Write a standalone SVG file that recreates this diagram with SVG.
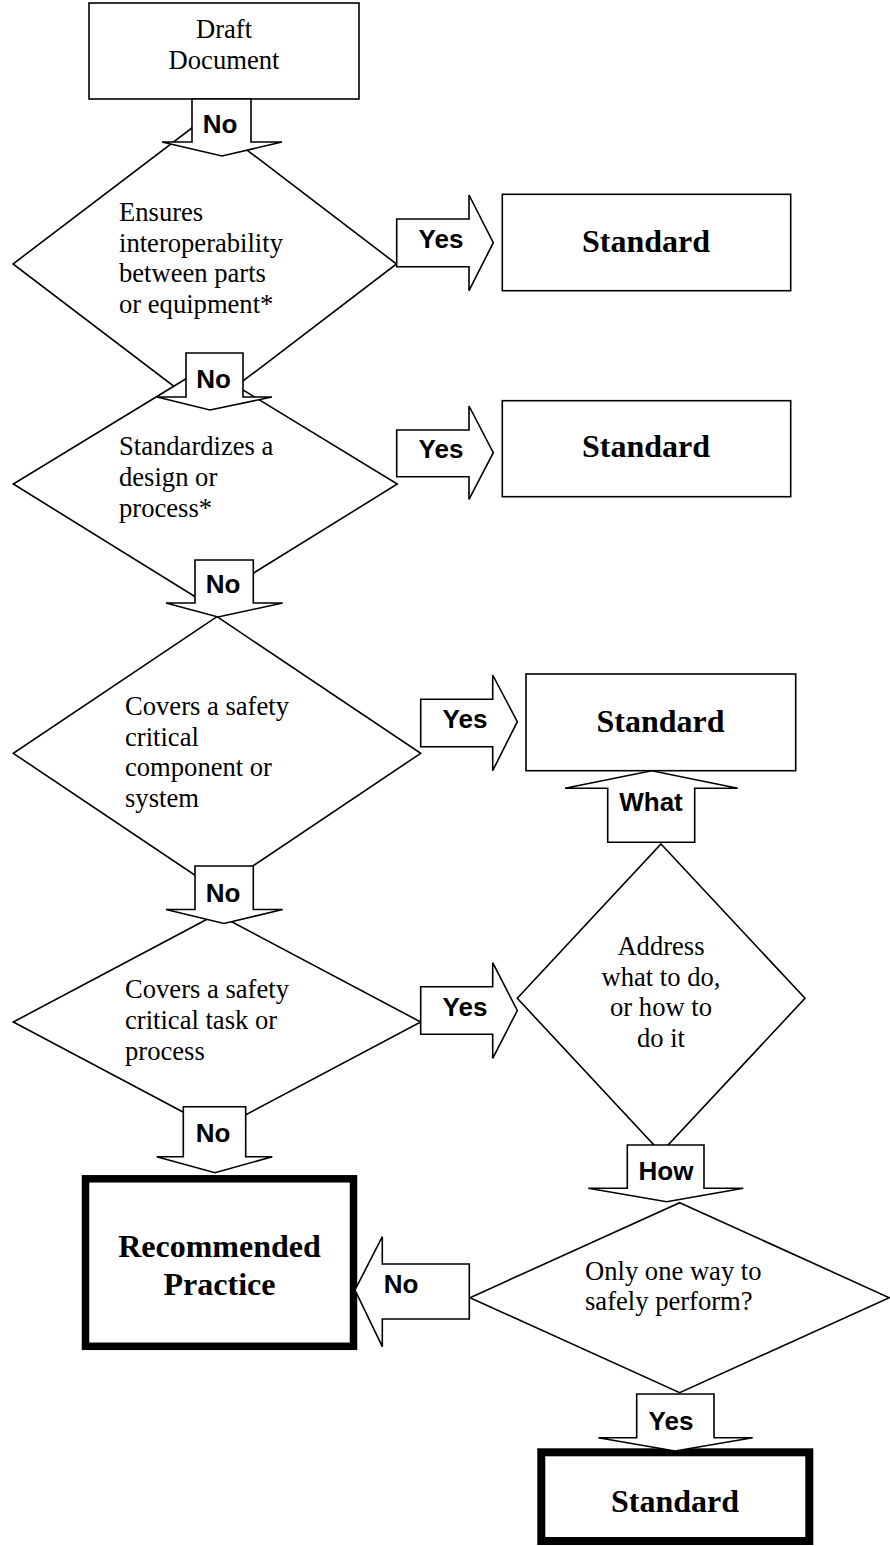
<svg xmlns="http://www.w3.org/2000/svg" width="890" height="1546" viewBox="0 0 890 1546">
<style>
.shape{fill:#fff;stroke:#000;stroke-width:1.6;stroke-linejoin:miter}
.thick{fill:#fff;stroke:#000;stroke-width:7.5}
.arrow{fill:#fff;stroke:#000;stroke-width:1.6;stroke-linejoin:miter}
.t{font-family:"Liberation Serif","Times New Roman",serif;font-size:26.6px;fill:#000}
.tb{font-family:"Liberation Serif","Times New Roman",serif;font-size:32px;font-weight:bold;fill:#000;text-anchor:middle}
.lbl{font-family:"Liberation Sans",Arial,sans-serif;font-size:26px;font-weight:bold;fill:#000;text-anchor:middle}
.c{text-anchor:middle}
</style>
<rect width="890" height="1546" fill="#fff"/>
<g id="draft">
<rect class="shape" x="89" y="3" width="270" height="96"/>
<text class="t c" x="224" y="38.3">Draft</text>
<text class="t c" x="224" y="69">Document</text>
</g>
<g id="d1">
<polygon class="shape" points="205,118 396.5,264 205,410 13,264"/>
<text class="t" x="119" y="220.7">Ensures</text>
<text class="t" x="119" y="251.5">interoperability</text>
<text class="t" x="119" y="282.3">between parts</text>
<text class="t" x="119" y="313.1">or equipment*</text>
</g>
<g id="d2">
<polygon class="shape" points="205.3,367 397.3,484 205.3,603 13.3,484"/>
<text class="t" x="119" y="455">Standardizes a</text>
<text class="t" x="119" y="485.5">design or</text>
<text class="t" x="119" y="516.5">process*</text>
</g>
<g id="d3">
<polygon class="shape" points="217,616.7 420.7,753.3 217,890 13.3,753.3"/>
<text class="t" x="125" y="715">Covers a safety</text>
<text class="t" x="125" y="745.7">critical</text>
<text class="t" x="125" y="776.3">component or</text>
<text class="t" x="125" y="807">system</text>
</g>
<g id="d4">
<polygon class="shape" points="217,914 420.7,1022 217,1130 13.3,1022"/>
<text class="t" x="125" y="998.3">Covers a safety</text>
<text class="t" x="125" y="1028.8">critical task or</text>
<text class="t" x="125" y="1059.5">process</text>
</g>
<g id="d5">
<polygon class="shape" points="661,844 805,998.3 661,1152.6 517.3,998.3"/>
<text class="t c" x="661" y="955">Address</text>
<text class="t c" x="661" y="985.5">what to do,</text>
<text class="t c" x="661" y="1016">or how to</text>
<text class="t c" x="661" y="1046.5">do it</text>
</g>
<g id="d6">
<polygon class="shape" points="679.7,1202.7 889.3,1297.7 679.7,1392.7 470,1297.7"/>
<text class="t" x="585" y="1280">Only one way to</text>
<text class="t" x="585" y="1310">safely perform?</text>
</g>
<g id="std1">
<rect class="shape" x="502.3" y="194.3" width="288.4" height="96.4"/>
<text class="tb" x="646" y="251.7">Standard</text>
</g>
<g id="std2">
<rect class="shape" x="502.3" y="400.7" width="288.4" height="96"/>
<text class="tb" x="646" y="456.7">Standard</text>
</g>
<g id="std3">
<rect class="shape" x="526" y="674" width="269.7" height="96.7"/>
<text class="tb" x="660.5" y="731.7">Standard</text>
</g>
<g id="rp">
<rect class="thick" x="85.5" y="1178.8" width="268" height="167.5"/>
<text class="tb" x="219.5" y="1257">Recommended</text>
<text class="tb" x="219.5" y="1295">Practice</text>
</g>
<g id="std4">
<rect class="shape" style="stroke-width:8" x="541.3" y="1452.3" width="268" height="88.7"/>
<text class="tb" x="675" y="1511.7">Standard</text>
</g>
<g id="connectors">
<path class="arrow" d="M192,99 L251,99 L251,142 L282,142 L222,156 L162,142 L192,142 Z"/>
<text class="lbl" x="220" y="133.3">No</text>
<path class="arrow" d="M186,353 L243,353 L243,397 L272,397 L210,410 L157,397 L186,397 Z"/>
<text class="lbl" x="213.5" y="388.3">No</text>
<path class="arrow" d="M195,560 L253.3,560 L253.3,603 L282.7,603 L218,617 L166,603 L195,603 Z"/>
<text class="lbl" x="223" y="593.3">No</text>
<path class="arrow" d="M195,866 L253.3,866 L253.3,909.5 L282.7,909.5 L224,923.5 L166,909.5 L195,909.5 Z"/>
<text class="lbl" x="223" y="901.7">No</text>
<path class="arrow" d="M183.3,1106.7 L245.7,1106.7 L245.7,1156.7 L272.3,1156.7 L215,1172.7 L156.7,1156.7 L183.3,1156.7 Z"/>
<text class="lbl" x="213" y="1141.7">No</text>
<path class="arrow" d="M396.7,219 L469,219 L469,195 L493.3,242.7 L469,290.7 L469,266.7 L396.7,266.7 Z"/>
<text class="lbl" x="441" y="248.3">Yes</text>
<path class="arrow" d="M396.7,430 L469,430 L469,406 L493.3,452.7 L469,499.4 L469,476.7 L396.7,476.7 Z"/>
<text class="lbl" x="441" y="458.3">Yes</text>
<path class="arrow" d="M420.7,699.3 L492.7,699.3 L492.7,675 L517.3,721.7 L492.7,770.7 L492.7,746.7 L420.7,746.7 Z"/>
<text class="lbl" x="465" y="728">Yes</text>
<path class="arrow" d="M420.7,986.7 L492.7,986.7 L492.7,962.7 L517.3,1010.5 L492.7,1058.3 L492.7,1034.3 L420.7,1034.3 Z"/>
<text class="lbl" x="465" y="1016">Yes</text>
<path class="arrow" d="M469.3,1264 L382.3,1264 L382.3,1236.7 L355,1290 L382.3,1346.7 L382.3,1319 L469.3,1319 Z"/>
<text class="lbl" x="401" y="1293">No</text>
<path class="arrow" d="M607.7,842.3 L694.7,842.3 L694.7,788.3 L737.7,788.3 L651.7,770.7 L565,788.3 L607.7,788.3 Z"/>
<text class="lbl" x="651" y="810.7">What</text>
<path class="arrow" d="M627.3,1145 L704,1145 L704,1188.3 L743.3,1188.3 L666.7,1201.7 L588.3,1188.3 L627.3,1188.3 Z"/>
<text class="lbl" x="666" y="1180">How</text>
<path class="arrow" d="M636.7,1394 L714,1394 L714,1437.7 L752.7,1437.7 L675,1451 L598.3,1437.7 L636.7,1437.7 Z"/>
<text class="lbl" x="671" y="1430">Yes</text>
</g>
</svg>
